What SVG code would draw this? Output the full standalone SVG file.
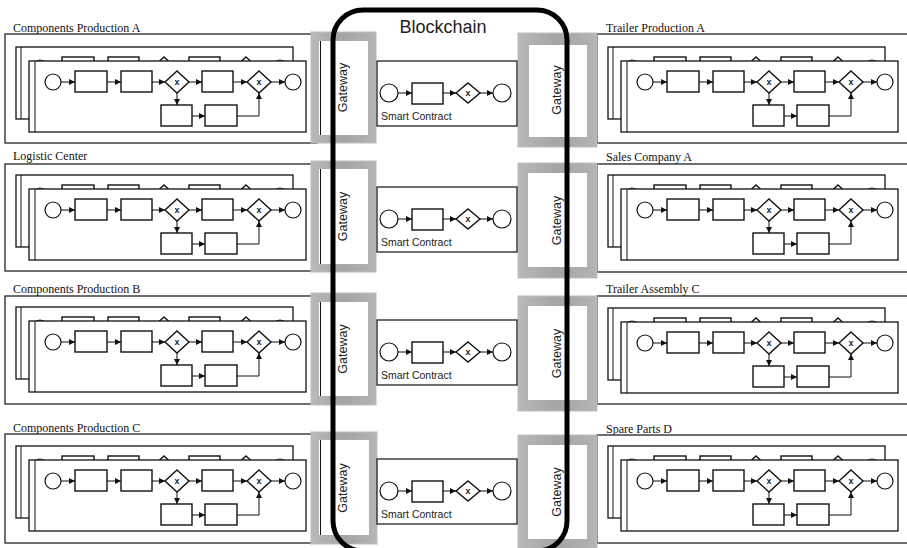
<svg xmlns="http://www.w3.org/2000/svg" xmlns:xlink="http://www.w3.org/1999/xlink" width="907" height="548" viewBox="0 0 907 548">
<style>
.ob{fill:#fff;stroke:#222;stroke-width:1.3}
.pool{fill:#fff;stroke:#111;stroke-width:1.3}
.ln{stroke:#111;stroke-width:1}
.tk{fill:#fff;stroke:#111;stroke-width:1.4}
.ev{fill:#fff;stroke:#111;stroke-width:1.2}
.fl{fill:none;stroke:#111;stroke-width:1}
.gx{font-family:"Liberation Sans",Arial,sans-serif;font-size:9px;font-weight:bold;fill:#222;text-anchor:middle}
.ttl{font-family:"Liberation Serif","Times New Roman",serif;font-size:12px;fill:#111}
.gwo{fill:url(#gg);stroke:#bdbdbd;stroke-width:1}
.gwi{fill:#fff;stroke:none}
.gwt{font-family:"Liberation Sans",Arial,sans-serif;font-size:12.5px;fill:#222;text-anchor:middle}
.sc{fill:#fff;stroke:#222;stroke-width:1.3}
.sct{font-family:"Liberation Sans",Arial,sans-serif;font-size:10.5px;fill:#222}
</style>
<defs>
<linearGradient id="gg" x1="0" y1="0" x2="1" y2="0">
<stop offset="0" stop-color="#b9b9b9"/>
<stop offset="0.5" stop-color="#a4a4a4"/>
<stop offset="1" stop-color="#b5b5b5"/>
</linearGradient>
<marker id="ah" viewBox="0 0 6 6" refX="6" refY="3" markerWidth="6" markerHeight="6" markerUnits="userSpaceOnUse" orient="auto">
<path d="M0,0 L6,3 L0,6 z" fill="#111"/>
</marker>
<g id="flow">
<g class="connectors">
<line class="fl" x1="32" y1="21" x2="46" y2="21" marker-end="url(#ah)"/>
<line class="fl" x1="78" y1="21" x2="92" y2="21" marker-end="url(#ah)"/>
<line class="fl" x1="123" y1="21" x2="136" y2="21" marker-end="url(#ah)"/>
<line class="fl" x1="160" y1="21" x2="173" y2="21" marker-end="url(#ah)"/>
<line class="fl" x1="204" y1="21" x2="218" y2="21" marker-end="url(#ah)"/>
<line class="fl" x1="242" y1="21" x2="256" y2="21" marker-end="url(#ah)"/>
<line class="fl" x1="148" y1="32" x2="148" y2="44" marker-end="url(#ah)"/>
<line class="fl" x1="163" y1="55" x2="176" y2="55" marker-end="url(#ah)"/>
<polyline class="fl" points="208,55 230,55 230,32" marker-end="url(#ah)"/>
</g>
<circle class="ev" cx="24" cy="21" r="8"/>
<rect class="tk" x="46" y="10" width="32" height="21"/>
<rect class="tk" x="92" y="10" width="31" height="21"/>
<polygon class="tk" points="148,10 160,21 148,32 136,21"/>
<text class="gx" x="148" y="24">x</text>
<rect class="tk" x="173" y="10" width="31" height="21"/>
<polygon class="tk" points="230,10 242,21 230,32 218,21"/>
<text class="gx" x="230" y="24">x</text>
<circle class="ev" cx="264" cy="21" r="8"/>
<rect class="tk" x="132" y="44" width="31" height="21"/>
<rect class="tk" x="176" y="44" width="32" height="21"/>
</g>
<g id="pools">
<rect class="pool" x="-13" y="-14" width="277" height="72"/>
<line class="ln" x1="-8" y1="-14" x2="-8" y2="58"/>
<use xlink:href="#flow" href="#flow" x="-13" y="-14"/>
<rect class="pool" x="0" y="0" width="277" height="71"/>
<line class="ln" x1="6" y1="0" x2="6" y2="71"/>
<use xlink:href="#flow" href="#flow"/>
</g>
<g id="scflow">
<rect class="sc" x="0" y="0" width="140" height="65"/>
<g class="connectors">
<line class="fl" x1="21" y1="32" x2="35" y2="32" marker-end="url(#ah)"/>
<line class="fl" x1="66" y1="32" x2="79" y2="32" marker-end="url(#ah)"/>
<line class="fl" x1="103" y1="32" x2="116" y2="32" marker-end="url(#ah)"/>
</g>
<circle class="ev" cx="12" cy="32" r="9"/>
<rect class="tk" x="35" y="22" width="31" height="21"/>
<polygon class="tk" points="91,22 103,32 91,42 79,32"/>
<text class="gx" x="91" y="35">x</text>
<circle class="ev" cx="125" cy="32" r="9"/>
<text class="sct" x="4" y="59">Smart Contract</text>
</g>
</defs>

<rect x="0" y="0" width="907" height="548" fill="#fff"/>

<!-- Left column -->
<g id="comp-prod-a">
<text class="ttl" x="13" y="32">Components Production A</text>
<rect class="ob" x="5" y="34" width="312" height="109"/>
<use xlink:href="#pools" href="#pools" x="29" y="61"/>
</g>
<g id="logistic-center">
<text class="ttl" x="13" y="160">Logistic Center</text>
<rect class="ob" x="5" y="164" width="312" height="107"/>
<use xlink:href="#pools" href="#pools" x="29" y="189"/>
</g>
<g id="comp-prod-b">
<text class="ttl" x="13" y="293">Components Production B</text>
<rect class="ob" x="5" y="296" width="312" height="108"/>
<use xlink:href="#pools" href="#pools" x="29" y="321"/>
</g>
<g id="comp-prod-c">
<text class="ttl" x="13" y="432">Components Production C</text>
<rect class="ob" x="5" y="434" width="312" height="109"/>
<use xlink:href="#pools" href="#pools" x="29" y="460"/>
</g>

<!-- Right column -->
<g id="trailer-prod-a">
<text class="ttl" x="606" y="32">Trailer Production A</text>
<rect class="ob" x="597" y="34" width="314" height="109"/>
<use xlink:href="#pools" href="#pools" x="621" y="61"/>
</g>
<g id="sales-company-a">
<text class="ttl" x="606" y="161">Sales Company A</text>
<rect class="ob" x="597" y="164" width="314" height="108"/>
<use xlink:href="#pools" href="#pools" x="621" y="189"/>
</g>
<g id="trailer-assembly-c">
<text class="ttl" x="606" y="293">Trailer Assembly C</text>
<rect class="ob" x="597" y="296" width="314" height="108"/>
<use xlink:href="#pools" href="#pools" x="621" y="322"/>
</g>
<g id="spare-parts-d">
<text class="ttl" x="606" y="433">Spare Parts D</text>
<rect class="ob" x="597" y="435" width="314" height="108"/>
<use xlink:href="#pools" href="#pools" x="621" y="460"/>
</g>

<!-- Left gateways -->
<g id="gw-left-1"><rect class="gwo" x="311" y="32" width="65" height="111"/><rect class="gwi" x="319" y="41" width="49" height="94"/><line class="ln" x1="320.5" y1="41" x2="320.5" y2="135"/></g>
<g id="gw-left-2"><rect class="gwo" x="311" y="161" width="65" height="111"/><rect class="gwi" x="319" y="169" width="49" height="95"/><line class="ln" x1="320.5" y1="169" x2="320.5" y2="264"/></g>
<g id="gw-left-3"><rect class="gwo" x="311" y="293" width="65" height="112"/><rect class="gwi" x="319" y="302" width="49" height="94"/><line class="ln" x1="320.5" y1="302" x2="320.5" y2="396"/></g>
<g id="gw-left-4"><rect class="gwo" x="311" y="432" width="66" height="112"/><rect class="gwi" x="319" y="440" width="50" height="95"/><line class="ln" x1="320.5" y1="440" x2="320.5" y2="535"/></g>

<!-- Right gateways -->
<g id="gw-right-1"><rect class="gwo" x="518" y="33" width="79" height="114"/><rect class="gwi" x="529" y="45" width="58" height="92"/></g>
<g id="gw-right-2"><rect class="gwo" x="518" y="163" width="79" height="115"/><rect class="gwi" x="528" y="173" width="59" height="94"/></g>
<g id="gw-right-3"><rect class="gwo" x="518" y="296" width="79" height="115"/><rect class="gwi" x="528" y="306" width="59" height="94"/></g>
<g id="gw-right-4"><rect class="gwo" x="518" y="435" width="79" height="114"/><rect class="gwi" x="528" y="445" width="59" height="94"/></g>

<!-- Smart contracts -->
<g id="sc-1"><use xlink:href="#scflow" href="#scflow" x="377" y="61"/></g>
<g id="sc-2"><use xlink:href="#scflow" href="#scflow" x="377" y="187"/></g>
<g id="sc-3"><use xlink:href="#scflow" href="#scflow" x="377" y="320"/></g>
<g id="sc-4"><use xlink:href="#scflow" href="#scflow" x="377" y="459"/></g>

<!-- Blockchain -->
<g id="blockchain">
<rect x="333" y="10" width="234" height="541" rx="30" ry="30" fill="none" stroke="#000" stroke-width="5"/>
<text x="443" y="33" font-family="'Liberation Sans',Arial,sans-serif" font-size="18" fill="#222" text-anchor="middle">Blockchain</text>
</g>

<!-- Gateway labels -->
<g id="gw-labels">
<text class="gwt" transform="translate(347,87.5) rotate(-90)">Gateway</text>
<text class="gwt" transform="translate(347,216.5) rotate(-90)">Gateway</text>
<text class="gwt" transform="translate(347,349) rotate(-90)">Gateway</text>
<text class="gwt" transform="translate(347,488) rotate(-90)">Gateway</text>
<text class="gwt" transform="translate(561,90) rotate(-90)">Gateway</text>
<text class="gwt" transform="translate(561,220.5) rotate(-90)">Gateway</text>
<text class="gwt" transform="translate(561,353.5) rotate(-90)">Gateway</text>
<text class="gwt" transform="translate(561,492) rotate(-90)">Gateway</text>
</g>
</svg>
